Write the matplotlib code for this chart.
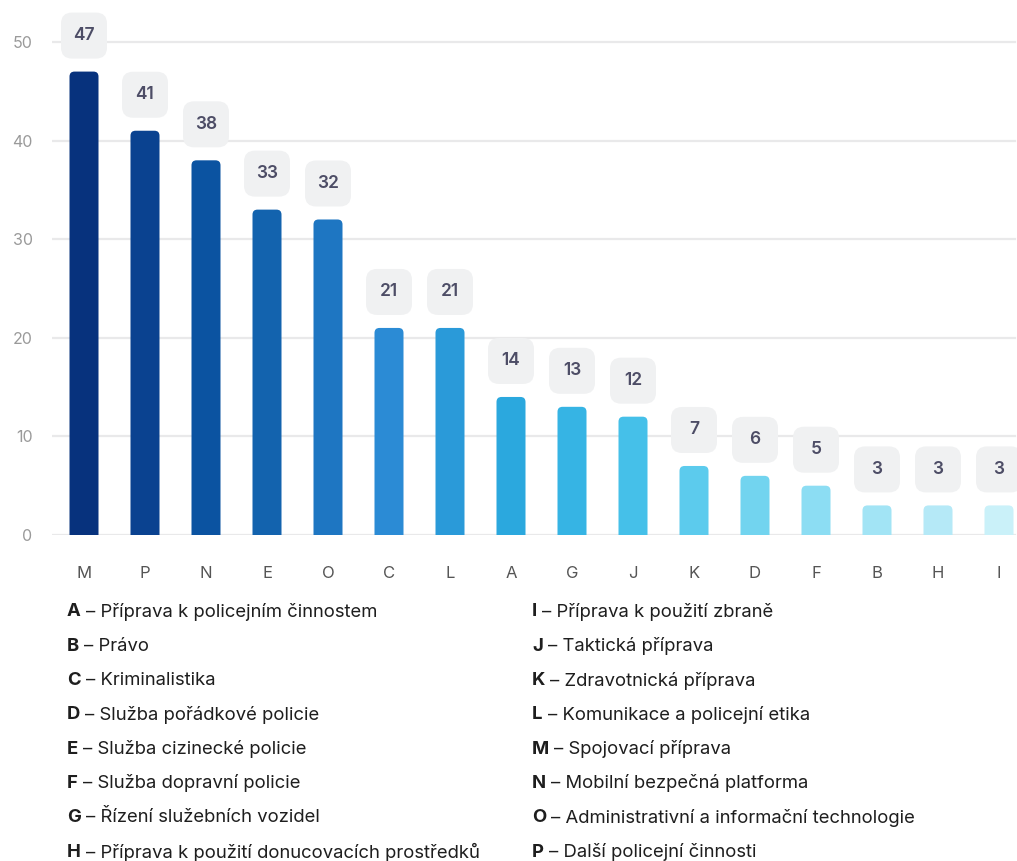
import numpy as np
import matplotlib
matplotlib.use("Agg")
import matplotlib.pyplot as plt
from matplotlib.patches import FancyBboxPatch

# Data (sorted descending)
categories = ['M', 'P', 'N', 'E', 'O', 'C', 'L', 'A', 'G', 'J', 'K', 'D', 'F', 'B', 'H', 'I']
values = [47, 41, 38, 33, 32, 21, 21, 14, 13, 12, 7, 6, 5, 3, 3, 3]
bar_colors = ['#07327d', '#0a4290', '#0b53a1', '#1363ae', '#1e76c2', '#2b8bd5', '#2a9ad9',
              '#2ba8de', '#36b4e4', '#45c0e9', '#5ccbed', '#72d4ef', '#8cddf3', '#a2e4f5',
              '#b5e9f7', '#caf1f9']

legend_left = [('A', 'Příprava k policejním činnostem'),
               ('B', 'Právo'),
               ('C', 'Kriminalistika'),
               ('D', 'Služba pořádkové policie'),
               ('E', 'Služba cizinecké policie'),
               ('F', 'Služba dopravní policie'),
               ('G', 'Řízení služebních vozidel'),
               ('H', 'Příprava k použití donucovacích prostředků')]
legend_right = [('I', 'Příprava k použití zbraně'),
                ('J', 'Taktická příprava'),
                ('K', 'Zdravotnická příprava'),
                ('L', 'Komunikace a policejní etika'),
                ('M', 'Spojovací příprava'),
                ('N', 'Mobilní bezpečná platforma'),
                ('O', 'Administrativní a informační technologie'),
                ('P', 'Další policejní činnosti')]

plt.rcParams['font.family'] = ['Inter', 'DejaVu Sans']

W, H = 1017, 861
fig = plt.figure(figsize=(W / 100, H / 100), dpi=100)

# axes placed in pixel terms: x from 52 to 1017, y zero at 535
ax_left, ax_right = 52, 1017
y0_px = 535
px_per_unit = 98.6 / 10
ymax = 54
ax_top = y0_px - ymax * px_per_unit
ax = fig.add_axes([ax_left / W, (H - y0_px) / H, (ax_right - ax_left) / W, (y0_px - ax_top) / H])

x = np.arange(len(categories))
bar_px = 61.0
xmin = -(84 - ax_left) / bar_px
xmax = xmin + (ax_right - ax_left) / bar_px
ax.set_xlim(xmin, xmax)
ax.set_ylim(0, ymax)

aspect = bar_px / px_per_unit  # y units per x unit for equal pixel size

# grid
for gy in [0, 10, 20, 30, 40, 50]:
    ax.axhline(gy, xmin=0, xmax=0.998, color='#e9e9ea', lw=1.6, zorder=0)

# bars with rounded tops
bw = 29 / bar_px
for xi, v, c in zip(x, values, bar_colors):
    p = FancyBboxPatch((xi - bw / 2, -2), bw, v + 2,
                       boxstyle="round,pad=0,rounding_size=%f" % (5 / bar_px),
                       mutation_aspect=aspect, fc=c, ec='none', zorder=2)
    ax.add_patch(p)

# value label boxes
box_w = 46 / bar_px
box_h = 46 / px_per_unit
gap = 36 / px_per_unit
for xi, v in zip(x, values):
    cy = v + gap
    p = FancyBboxPatch((xi - box_w / 2, cy - box_h / 2), box_w, box_h,
                       boxstyle="round,pad=0,rounding_size=%f" % (11 / bar_px),
                       mutation_aspect=aspect, fc='#f0f1f2', ec='none', zorder=3,
                       clip_on=False)
    ax.add_patch(p)
    ax.text(xi, cy, str(v), ha='center', va='center', fontsize=12.5,
            fontweight='semibold', color='#4d4d66', zorder=4)

for s in ax.spines.values():
    s.set_visible(False)
ax.set_yticks([0, 10, 20, 30, 40, 50])
ax.set_yticklabels(['0', '10', '20', '30', '40', '50'])
ax.tick_params(axis='y', length=0, pad=14, labelsize=11.5, labelcolor='#9a9a9a')
ax.set_xticks(x)
ax.set_xticklabels(categories)
ax.tick_params(axis='x', length=0, pad=22, labelsize=12, labelcolor='#555555')

# legend below chart
row_y0 = 612
row_dy = 34.3
fig.canvas.draw()
renderer = fig.canvas.get_renderer()
for col_x, items in [(67, legend_left), (532, legend_right)]:
    for i, (k, name) in enumerate(items):
        yy = 1 - (row_y0 + i * row_dy) / H
        t = fig.text(col_x / W, yy, k, fontsize=13.3, fontweight='bold', color='#1e1e1e',
                     va='center', ha='left')
        bb = t.get_window_extent(renderer=renderer)
        fig.text((bb.x1 + 5) / W, yy, '– ' + name, fontsize=13.3, color='#1e1e1e',
                 va='center', ha='left')

fig.savefig('out.png', dpi=100, facecolor='white')
